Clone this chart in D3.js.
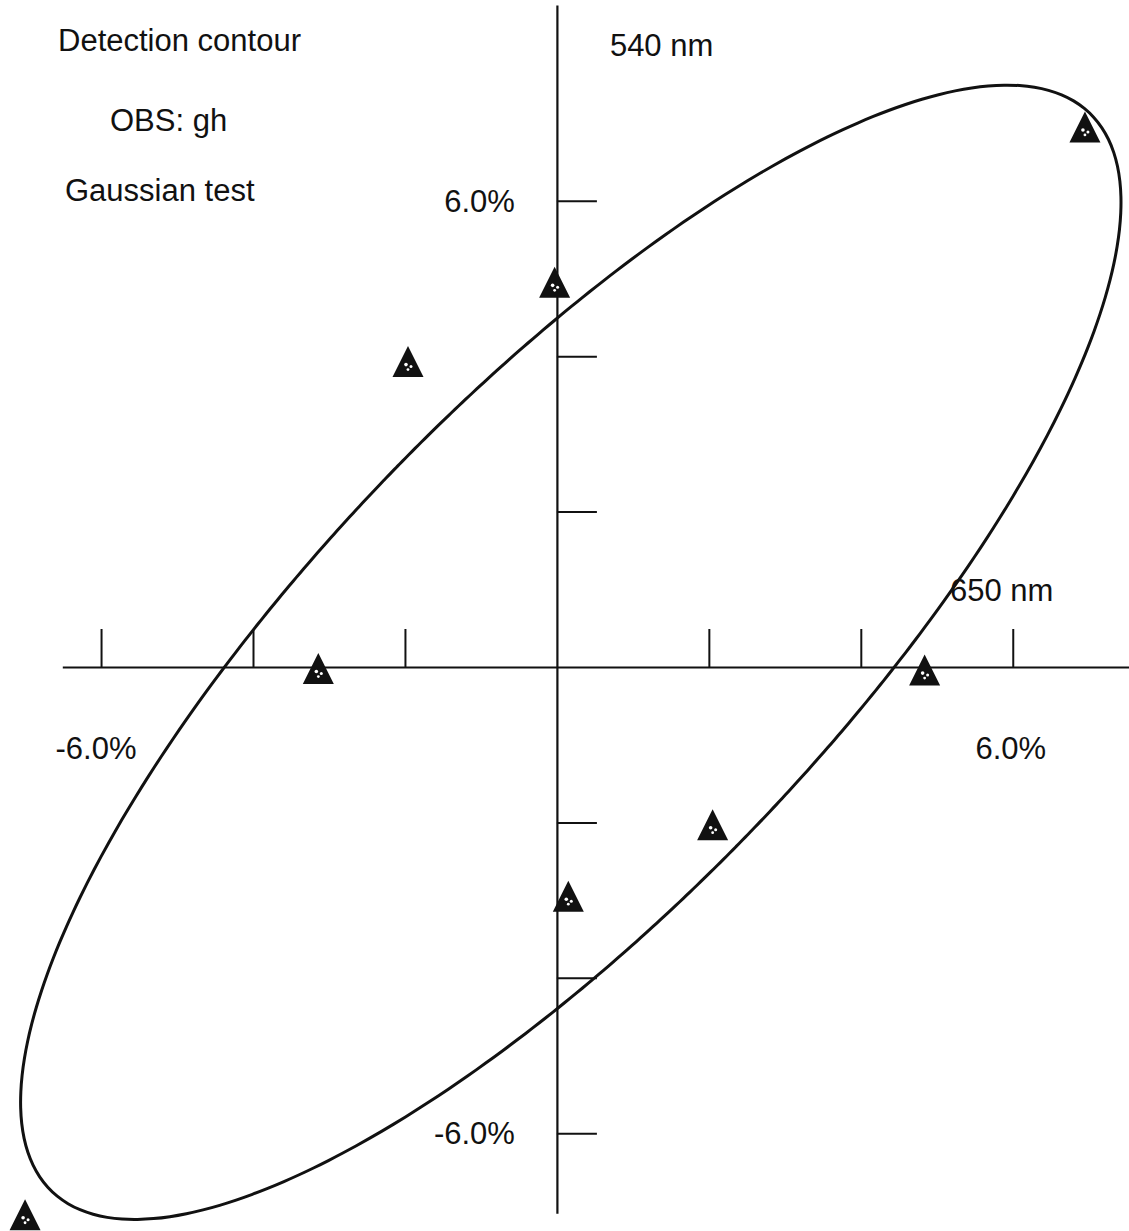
<!DOCTYPE html>
<html>
<head>
<meta charset="utf-8">
<script src="https://cdn.jsdelivr.net/npm/d3@7/dist/d3.min.js"></script>
<style>
  html, body { margin: 0; padding: 0; background: #fff; }
  svg { display: block; }
  text { font-family: "Liberation Sans", Arial, Helvetica, sans-serif; font-size: 31px; fill: #111; }
</style>
</head>
<body>
<svg id="chart" width="1129" height="1231"></svg>
<script>
// Observed colour differences (%) at 650 nm (x) and 540 nm (y)
const obsX = [6.95, -0.03, -1.96, -3.14, 4.84, 2.05, 0.15, -7.0];
const obsY = [6.95, 4.95, 3.93, -0.02, -0.04, -2.03, -2.95, -7.05];

// Points on the detection contour (%)
const contourX = [4.42, 5.05, 5.65, 6.22, 6.84, 7.25, 7.41, 7.32, 7.14, 6.79, 6.09, 5.13, 4.25, 3.59, 2.93, 2.08, 1.22, 0.01,
                  -1.37, -2.59, -3.38, -4.0, -4.41, -5.36, -6.05, -6.5, -6.89, -7.04, -6.84, -6.32, -5.88, -5.13, -4.26, -2.74,
                  -1.79, -0.62, 0.04, 0.53, 1.36, 2.5, 3.55];
const contourY = [-0.03, 0.8, 1.65, 2.6, 3.99, 5.24, 6.14, 6.74, 7.08, 7.34, 7.52, 7.32, 7.04, 6.81, 6.49, 5.95, 5.39, 4.5,
                  3.4, 2.15, 1.29, 0.5, -0.01, -1.43, -2.61, -3.64, -4.71, -5.87, -6.64, -7.03, -7.12, -7.03, -6.73, -6.18,
                  -5.61, -4.86, -4.41, -4.0, -3.35, -2.32, -1.11];

// Tick positions (%) and labelled extremes
const tickValues = [-6, -4, -2, 2, 4, 6];
const xTickLabels = [{ v: -6, text: "-6.0%" }, { v: 6, text: "6.0%" }];
const yTickLabels = [{ v: 6, text: "6.0%" }, { v: -6, text: "-6.0%" }];
const titleLines = ["Detection contour", "OBS: gh", "Gaussian test"];

const W = 1129, H = 1231;
const svg = d3.select("#chart");

const x = d3.scaleLinear().domain([-7.33, 7.53]).range([0, W]);
const y = d3.scaleLinear().domain([8.584, -7.259]).range([0, H]);

// Axes crossing at the origin
const xAxisScale = x.copy().domain([-6.51, 7.53]).range([x(-6.51), x(7.53)]);
const yAxisScale = y.copy().domain([8.52, -7.03]).range([y(8.52), y(-7.03)]);

const xAxis = svg.append("g")
  .attr("transform", `translate(0,${y(0)})`)
  .call(d3.axisTop(xAxisScale).tickValues(tickValues).tickSizeInner(38).tickSizeOuter(0).tickFormat(""));
const yAxis = svg.append("g")
  .attr("transform", `translate(${x(0)},0)`)
  .call(d3.axisRight(yAxisScale).tickValues(tickValues).tickSizeInner(40).tickSizeOuter(0).tickFormat(""));
[xAxis, yAxis].forEach(g => {
  g.selectAll("path.domain").attr("stroke", "#111").attr("stroke-width", 2.2);
  g.selectAll(".tick line").attr("stroke", "#111").attr("stroke-width", 2);
});

// Weighted linear least squares
function leastSquares(rows, targets, weights) {
  const n = rows[0].length, M = Array.from({ length: n }, () => new Array(n + 1).fill(0));
  rows.forEach((row, i) => {
    const w = weights[i] * weights[i];
    for (let r = 0; r < n; r++) {
      for (let c = 0; c < n; c++) M[r][c] += w * row[r] * row[c];
      M[r][n] += w * row[r] * targets[i];
    }
  });
  for (let c = 0; c < n; c++) {
    let p = c;
    for (let r = c + 1; r < n; r++) if (Math.abs(M[r][c]) > Math.abs(M[p][c])) p = r;
    [M[c], M[p]] = [M[p], M[c]];
    for (let r = 0; r < n; r++) {
      if (r === c) continue;
      const f = M[r][c] / M[c][c];
      for (let k = c; k <= n; k++) M[r][k] -= f * M[c][k];
    }
  }
  return M.map((row, i) => row[n] / row[i]);
}

// Conic A x² + B xy + C y² + D x + E y = 1 through the contour points,
// re-weighted by the gradient so the residuals approximate distances
const rows = contourX.map((px, i) => { const py = contourY[i]; return [px * px, px * py, py * py, px, py]; });
const ones = contourX.map(() => 1);
let coef = leastSquares(rows, ones, ones);
for (let it = 0; it < 4; it++) {
  const [a, b, c, d, e] = coef;
  const w = contourX.map((px, i) => {
    const py = contourY[i];
    return 1 / Math.hypot(2 * a * px + b * py + d, b * px + 2 * c * py + e);
  });
  coef = leastSquares(rows, ones, w);
}
const [A, B, C, D, E] = coef;
const det = 4 * A * C - B * B;
const cx = (B * E - 2 * C * D) / det, cy = (B * D - 2 * A * E) / det;
const level = 1 - (A * cx * cx + B * cx * cy + C * cy * cy + D * cx + E * cy);
const contourCurve = d3.range(0, 360, 1).map(deg => {
  const t = deg * Math.PI / 180, c = Math.cos(t), s = Math.sin(t);
  const r = Math.sqrt(level / (A * c * c + B * c * s + C * s * s));
  return [cx + r * c, cy + r * s];
});
svg.append("path")
  .datum(contourCurve)
  .attr("d", d3.line().x(d => x(d[0])).y(d => y(d[1])).curve(d3.curveCardinalClosed))
  .attr("fill", "none")
  .attr("stroke", "#111")
  .attr("stroke-width", 3);

// Triangle marker centred on its bounding box
const boxTriangle = {
  draw(ctx, size) {
    const h = Math.sqrt(size);
    ctx.moveTo(0, -h / 2);
    ctx.lineTo(h / 2, h / 2);
    ctx.lineTo(-h / 2, h / 2);
    ctx.closePath();
  }
};
const obs = obsX.map((v, i) => ({ x: v, y: obsY[i] }));
const marks = svg.append("g").selectAll("g").data(obs).join("g")
  .attr("transform", d => `translate(${x(d.x)},${y(d.y)})`);
marks.append("path").attr("d", d3.symbol(boxTriangle, 31 * 31)).attr("fill", "#111");
// small printing specks inside each marker
const specks = [[-2, 3, 1.8], [3, 5, 1.5], [0, 8, 1.4]];
marks.selectAll("circle").data(specks).join("circle")
  .attr("cx", d => d[0]).attr("cy", d => d[1]).attr("r", d => d[2]).attr("fill", "#fff");

// Text
const titleY = [51, 131, 201], titleX = [58, 110, 65];
svg.append("g").selectAll("text").data(titleLines).join("text")
  .attr("x", (d, i) => titleX[i]).attr("y", (d, i) => titleY[i]).text(d => d);

svg.append("text").attr("x", x(0) + 53).attr("y", 56).text("540 nm");
svg.append("text").attr("x", 950).attr("y", y(0) - 66).text("650 nm");

svg.append("g").selectAll("text").data(xTickLabels).join("text")
  .attr("x", d => x(d.v) + (d.v < 0 ? -5 : -2)).attr("y", y(0) + 92)
  .attr("text-anchor", "middle").text(d => d.text);
svg.append("g").selectAll("text").data(yTickLabels).join("text")
  .attr("x", x(0) - 42).attr("y", d => y(d.v) + 11)
  .attr("text-anchor", "end").text(d => d.text);
</script>
</body>
</html>
